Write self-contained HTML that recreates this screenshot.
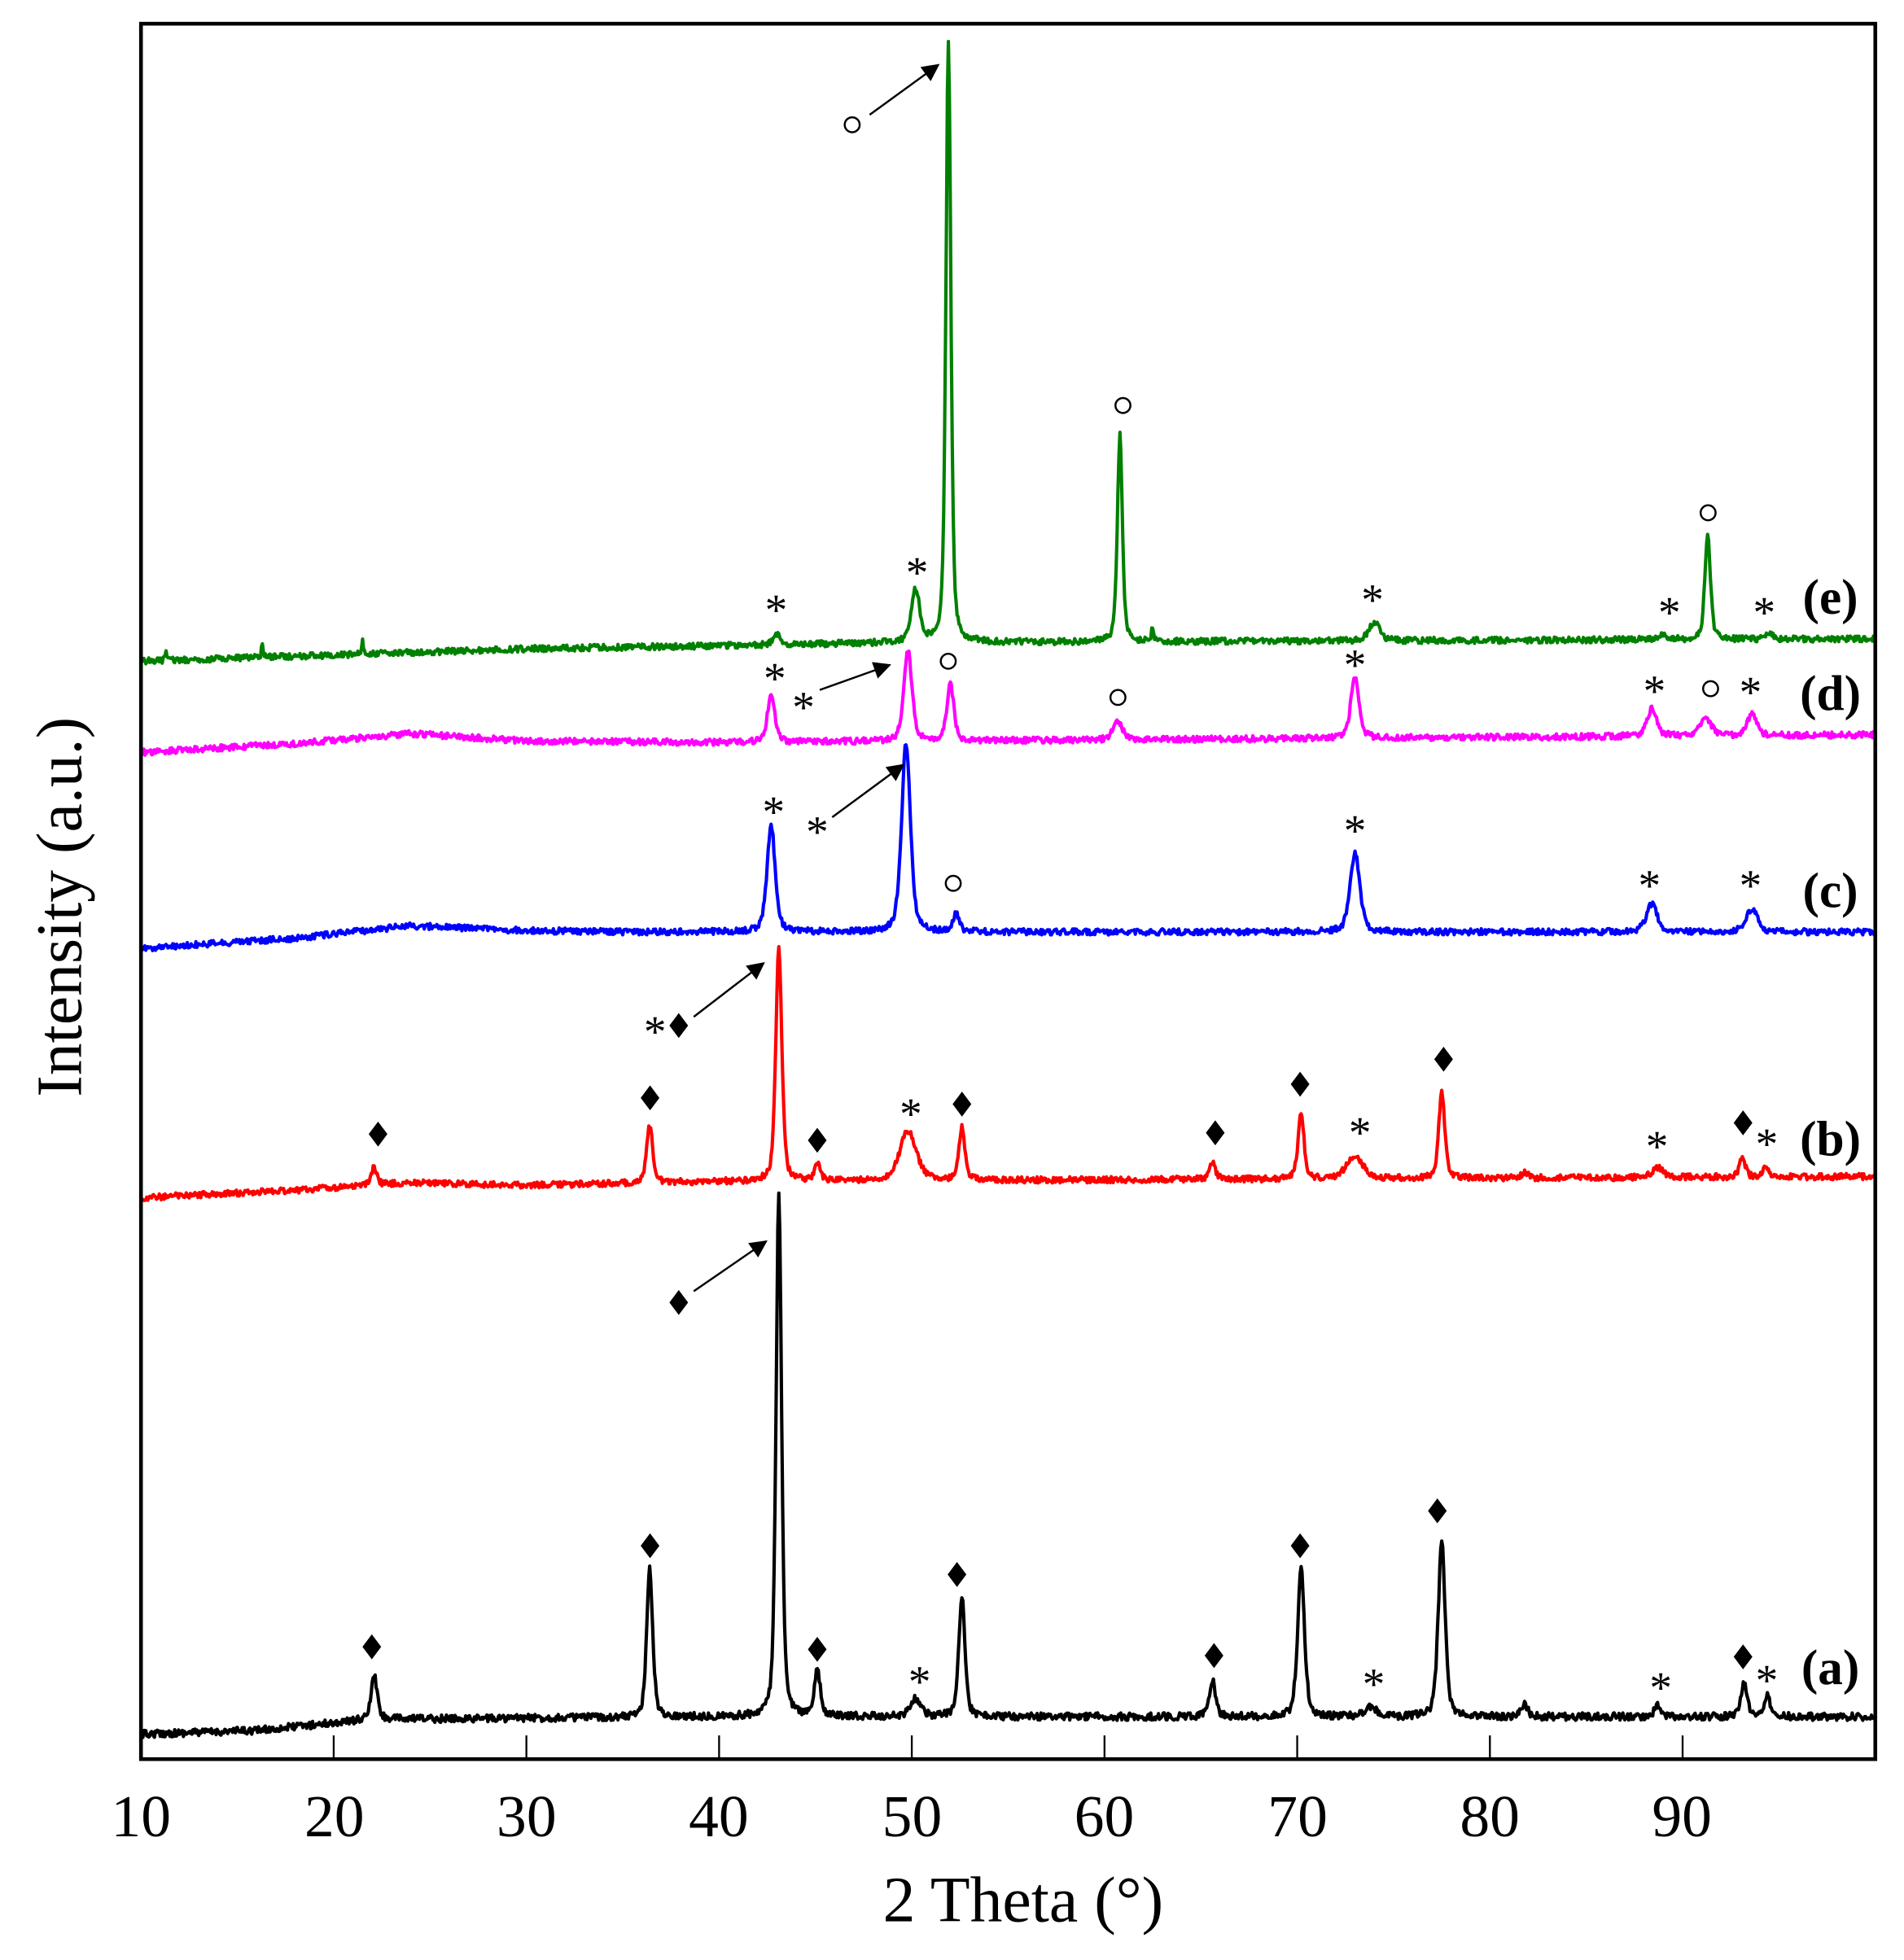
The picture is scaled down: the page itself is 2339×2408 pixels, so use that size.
<!DOCTYPE html>
<html><head><meta charset="utf-8"><style>
html,body{margin:0;padding:0;background:#fff;}
svg{display:block;}
text{font-family:"Liberation Serif",serif;}
</style></head><body>
<svg id="s" width="2339" height="2408" viewBox="0 0 1526 1571" xmlns="http://www.w3.org/2000/svg">
<defs>
<marker id="arr" viewBox="0 0 10 10" refX="9" refY="5" markerWidth="20" markerHeight="14" markerUnits="userSpaceOnUse" orient="auto"><path d="M0,0 L10,5 L0,10 z" fill="#000"/></marker></defs>
<g id="curves" fill="none" stroke-width="2.7" stroke-linejoin="round"></g>
<rect x="113" y="19" width="1390" height="1391" fill="none" stroke="#000" stroke-width="3"/>
<g id="ticks" stroke="#000" stroke-width="1.5"></g>
<g font-size="48" text-anchor="middle">
<text x="113" y="1472">10</text><text x="268" y="1472">20</text><text x="422" y="1472">30</text><text x="576" y="1472">40</text><text x="731" y="1472">50</text><text x="885" y="1472">60</text><text x="1040" y="1472">70</text><text x="1194" y="1472">80</text><text x="1348" y="1472">90</text>
</g>
<text x="820" y="1540" font-size="52" text-anchor="middle">2 Theta (°)</text>
<text transform="translate(65,727) rotate(-90)" font-size="52" text-anchor="middle">Intensity (a.u.)</text>
<g font-size="40" font-weight="bold" text-anchor="middle">
<text x="1467" y="492">(e)</text><text x="1467" y="569">(d)</text><text x="1467" y="727">(c)</text><text x="1467" y="926">(b)</text><text x="1467" y="1350">(a)</text>
</g>
<g id="marks"></g>
<g stroke="#000" stroke-width="1.6" marker-end="url(#arr)">
<line x1="556" y1="1035" x2="614" y2="995"/>
<line x1="556" y1="815" x2="612" y2="772"/>
<line x1="667" y1="655" x2="724" y2="613"/>
<line x1="657" y1="553" x2="713" y2="533"/>
<line x1="697" y1="92" x2="752" y2="52"/>
</g>
</svg>
<script>
var NS="http://www.w3.org/2000/svg";
function X(t){return 113+(t-10)*1390/90;}
var seed=12345;function rnd(){seed=(seed*16807)%2147483647;return seed/2147483647;}
function curve(color,base,peaks,noise){
 var d="";
 for(var t=10;t<=100;t+=0.05){
  var y=base(t);
  for(var i=0;i<peaks.length;i++){var p=peaks[i];var w=p[2]||0.22;var u=(t-p[0])/w;y-=p[1]/(1+u*u*1.6)*0.5+p[1]*0.5*Math.exp(-u*u*0.9);}
  y+=(rnd()-0.5)*noise;
  d+=(d?"L":"M")+X(t).toFixed(1)+","+y.toFixed(1);
 }
 var p=document.createElementNS(NS,"path");p.setAttribute("d",d);p.setAttribute("stroke",color);
 document.getElementById("curves").appendChild(p);
}
function lerpBase(pts){return function(t){for(var i=0;i<pts.length-1;i++){if(t<=pts[i+1][0]){var a=pts[i],b=pts[i+1];return a[1]+(b[1]-a[1])*(t-a[0])/(b[0]-a[0]);}}return pts[pts.length-1][1];};}
curve("#000",lerpBase([[10,1390],[16,1387],[22,1378],[40,1376],[100,1376]]),[[22.1,35],[36.4,118],[43.1,419,0.2],[45.1,36],[50.2,14,0.4],[52.6,98],[65.6,30],[70.2,119,0.25],[73.8,8,0.4],[77.5,142,0.25],[81.8,10],[88.7,9],[93.2,28],[94.4,16]],6);
curve("#ff0000",lerpBase([[10,960],[18,954],[24,948],[30,950],[40,947],[100,943]]),[[22.1,14],[36.4,46],[43.1,188,0.22],[45.1,14],[49.8,40,0.6],[52.6,42],[65.6,13],[70.2,52],[73,18,0.6],[77.5,70],[81.8,5],[88.7,8,0.4],[93.1,15],[94.3,8]],5);
curve("#0000ff",lerpBase([[10,760],[18,752],[24,742],[30,746],[36,747],[100,747]]),[[42.7,86,0.3],[49.7,152,0.32],[52.3,14],[73,64,0.35],[88.4,22,0.4],[93.6,19,0.4]],5);
curve("#ff00ff",lerpBase([[10,603],[18,596],[24,588],[30,594],[40,595],[100,589]]),[[42.7,40,0.25],[49.8,72,0.3],[52,46,0.25],[60.7,14,0.35],[73,50,0.3],[88.4,22,0.35],[91.2,14,0.4],[93.6,17,0.35]],5);
curve("#008000",lerpBase([[10,530],[30,520],[50,515],[100,512]]),[[11.3,10,0.06],[16.3,12,0.06],[21.5,10,0.08],[43,8,0.3],[50.2,42,0.3],[51.9,480,0.18],[60.8,166,0.18],[62.5,12,0.08],[74,15,0.4],[89,5],[91.3,86,0.2],[94.5,6]],5);
var tg=document.getElementById("ticks");
for(var v=20;v<=90;v+=10){var l=document.createElementNS(NS,"line");l.setAttribute("x1",X(v));l.setAttribute("x2",X(v));l.setAttribute("y1",1410);l.setAttribute("y2",1391);tg.appendChild(l);}
var mg=document.getElementById("marks");
function dia(x,y){var p=document.createElementNS(NS,"path");p.setAttribute("d","M"+x+","+(y-10)+"L"+(x+7.5)+","+y+"L"+x+","+(y+10)+"L"+(x-7.5)+","+y+"z");mg.appendChild(p);}
function star(x,y){var t=document.createElementNS(NS,"text");t.setAttribute("x",x);t.setAttribute("y",y+17);t.setAttribute("font-size","36");t.setAttribute("text-anchor","middle");t.textContent="*";mg.appendChild(t);}
function circ(x,y){var c=document.createElementNS(NS,"circle");c.setAttribute("cx",x);c.setAttribute("cy",y);c.setAttribute("r",6);c.setAttribute("fill","none");c.setAttribute("stroke","#000");c.setAttribute("stroke-width","1.6");mg.appendChild(c);}
[[298,1320],[521,1239],[655,1322],[767,1262],[973,1327],[1042,1239],[1152,1211],[1397,1328],[544,1044],
 [303,909],[521,880],[655,914],[771,885],[974,908],[1042,869],[1157,849],[1397,900],[544,822]].forEach(function(p){dia(p[0],p[1]);});
[[737,1343],[1101,1345],[1331,1348],[1416,1342],
 [730,888],[1090,903],[1328,914],[1416,912],[525,822],
 [620,646],[655,662],[1086,661],[1322,705],[1403,705],
 [621,539],[644,562],[1086,528],[1326,549],[1403,550],
 [622,484],[735,454],[1100,476],[1338,486],[1414,486]].forEach(function(p){star(p[0],p[1]);});
[[764,708],[760,530],[896,559],[1371,552],[683,100],[900,325],[1369,411]].forEach(function(p){circ(p[0],p[1]);});
</script>
</body></html>
